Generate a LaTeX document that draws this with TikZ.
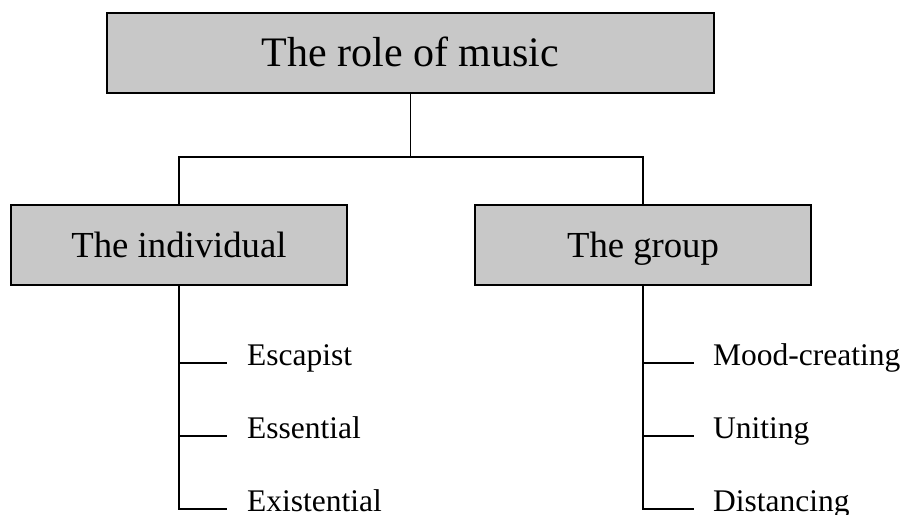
\documentclass[tikz,border=0pt]{standalone}
\usepackage{fontspec}
\setmainfont{Liberation Serif}
\definecolor{boxgray}{RGB}{200,200,200}
\begin{document}
\begin{tikzpicture}[x=1pt,y=-1pt,
  topbox/.style={draw=black,line width=1.8pt,fill=boxgray,inner sep=0pt,
    minimum width=607pt,minimum height=80pt,text height=27pt,text depth=0pt,
    font=\fontsize{42}{44}\selectfont},
  midbox/.style={draw=black,line width=1.8pt,fill=boxgray,inner sep=0pt,
    minimum width=336pt,minimum height=80pt,text height=24.5pt,text depth=0pt,
    font=\fontsize{36.7}{38}\selectfont},
  leaf/.style={anchor=mid west,inner sep=0pt,font=\fontsize{31.5}{33}\selectfont},
  conn/.style={line width=1.7pt}]
\useasboundingbox (0,0) rectangle (904,514);
\node[topbox] (top) at (410.5,53) {The role of music};
\node[midbox] (ind) at (179,245) {The individual};
\node[midbox] (grp) at (643,245) {The group};
\coordinate (split) at (410.5,157);
\draw[conn] (top.south) -- (split);
\draw[conn] (split) -| (ind.north);
\draw[conn] (split) -| (grp.north);
\node[leaf] (e1) at (247,363) {Escapist};
\node[leaf] (e2) at (247,436) {Essential};
\node[leaf] (e3) at (247,509) {Existential};
\node[leaf] (g1) at (713,363) {Mood-creating};
\node[leaf] (g2) at (713,436) {Uniting};
\node[leaf] (g3) at (713,509) {Distancing};
\draw[conn] (ind.south) |- ([xshift=-20pt]e3.mid west);
\draw[conn] (ind.south |- e1.mid west) -- ([xshift=-20pt]e1.mid west);
\draw[conn] (ind.south |- e2.mid west) -- ([xshift=-20pt]e2.mid west);
\draw[conn] (grp.south) |- ([xshift=-19pt]g3.mid west);
\draw[conn] (grp.south |- g1.mid west) -- ([xshift=-19pt]g1.mid west);
\draw[conn] (grp.south |- g2.mid west) -- ([xshift=-19pt]g2.mid west);
\end{tikzpicture}
\end{document}
